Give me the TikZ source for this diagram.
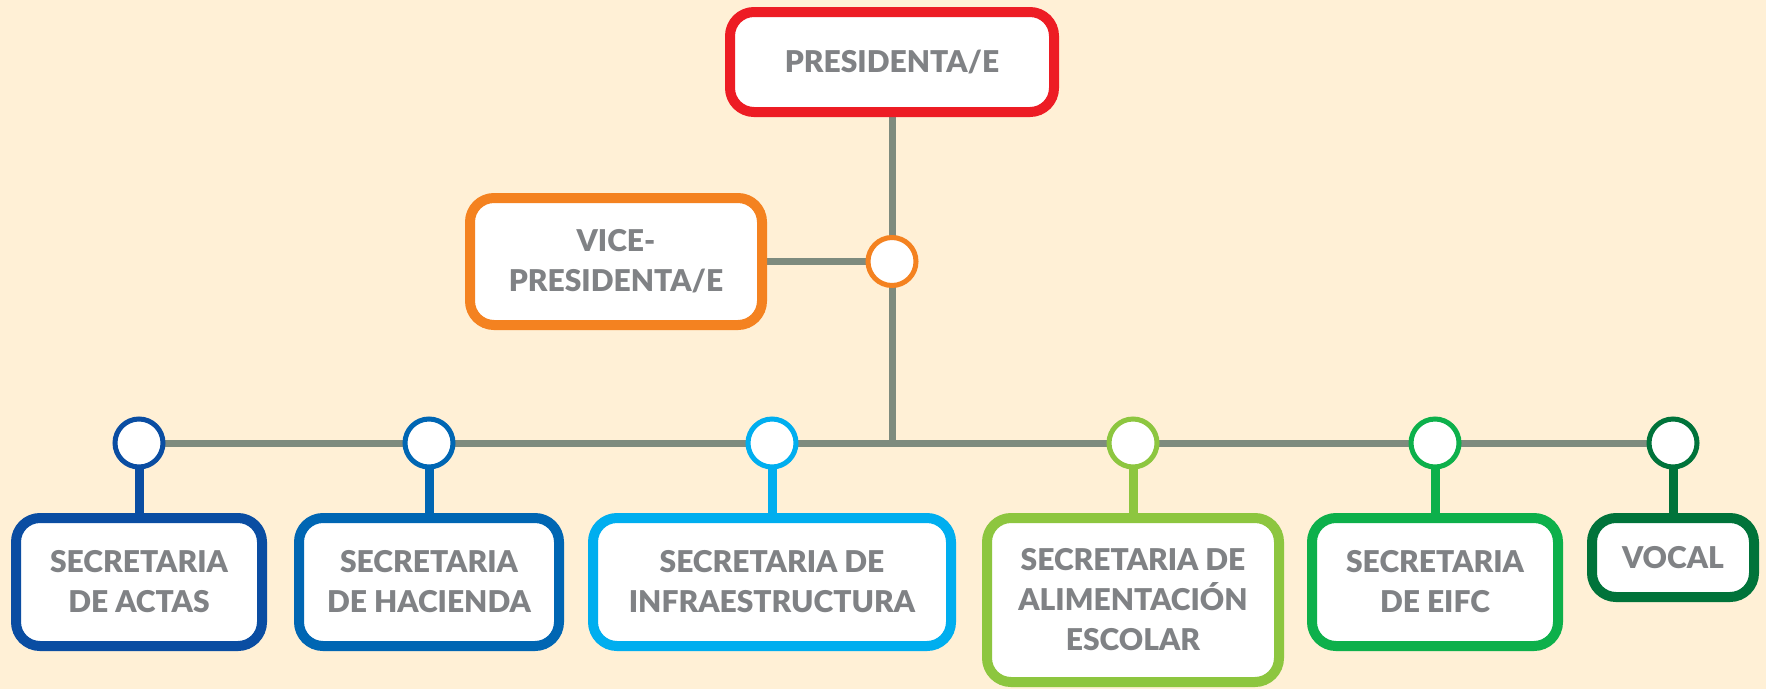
\documentclass[tikz,border=0pt]{standalone}
\usepackage{fontspec}
\setmainfont{Lato}[BoldFont={Lato Black}]
\definecolor{bgc}{HTML}{FFF0D6}
\definecolor{txt}{HTML}{808285}
\definecolor{lnc}{HTML}{7E8B7E}
\definecolor{cred}{HTML}{ED1C24}
\definecolor{corange}{HTML}{F48220}
\definecolor{cblue1}{HTML}{0A4DA2}
\definecolor{cblue2}{HTML}{0066B3}
\definecolor{cblue3}{HTML}{00AEEF}
\definecolor{cgreen1}{HTML}{8DC63F}
\definecolor{cgreen2}{HTML}{0DB04B}
\definecolor{cgreen3}{HTML}{00733A}
\pgfdeclarelayer{bg}
\pgfsetlayers{bg,main}
\tikzset{
  box/.style={draw=#1, line width=10pt, fill=white, rounded corners=24pt,
    inner sep=0pt, align=center, text=txt,
    font=\fontsize{30}{40}\selectfont\bfseries},
  dot/.style={circle, draw=#1, line width=5pt, fill=white, minimum size=48pt, inner sep=0pt},
  trunk/.style={draw=lnc, line width=7pt},
  stub/.style={draw=#1, line width=9pt},
}
\begin{document}
\begin{tikzpicture}[x=1pt,y=-1pt]
\useasboundingbox (0,0) rectangle (1766,689);
% top
\node[box=cred, minimum width=324pt, minimum height=100pt] (pres) at (892,62) {PRESIDENTA/E};
\node[box=corange, minimum width=292pt, minimum height=127pt] (vice) at (616,261.5) {VICE-\\PRESIDENTA/E};
\node[dot=corange] (hubc) at (892,261.5) {};
\coordinate (hub) at (892,443);
% bottom boxes
\node[box=cblue1, minimum width=246pt, minimum height=128pt] (b1) at (139,582) {SECRETARIA\\DE ACTAS};
\node[box=cblue2, minimum width=260pt, minimum height=128pt] (b2) at (429,582) {SECRETARIA\\DE HACIENDA};
\node[box=cblue3, minimum width=358pt, minimum height=128pt] (b3) at (772,582) {SECRETARIA DE\\INFRAESTRUCTURA};
\node[box=cgreen1, minimum width=292pt, minimum height=164pt] (b4) at (1133,600) {SECRETARIA DE\\ALIMENTACIÓN\\ESCOLAR};
\node[box=cgreen2, minimum width=246pt, minimum height=128pt] (b5) at (1435,582) {SECRETARIA\\DE EIFC};
\node[box=cgreen3, minimum width=162pt, minimum height=79pt] (b6) at (1673,557.5) {VOCAL};
% circles
\node[dot=cblue1] (c1) at (139,443) {};
\node[dot=cblue2] (c2) at (429,443) {};
\node[dot=cblue3] (c3) at (772,443) {};
\node[dot=cgreen1] (c4) at (1133,443) {};
\node[dot=cgreen2] (c5) at (1435,443) {};
\node[dot=cgreen3] (c6) at (1673,443) {};
\begin{pgfonlayer}{bg}
\fill[bgc] (0,0) rectangle (1766,689);
\draw[trunk] (pres.south) -- (hub);
\draw[trunk] (vice.east) -- (hubc.center);
\draw[trunk] (c1.center) -- (c6.center);
\draw[stub=cblue1] (c1.center) -- (b1.north);
\draw[stub=cblue2] (c2.center) -- (b2.north);
\draw[stub=cblue3] (c3.center) -- (b3.north);
\draw[stub=cgreen1] (c4.center) -- (b4.north);
\draw[stub=cgreen2] (c5.center) -- (b5.north);
\draw[stub=cgreen3] (c6.center) -- (b6.north);
\end{pgfonlayer}
\end{tikzpicture}
\end{document}
